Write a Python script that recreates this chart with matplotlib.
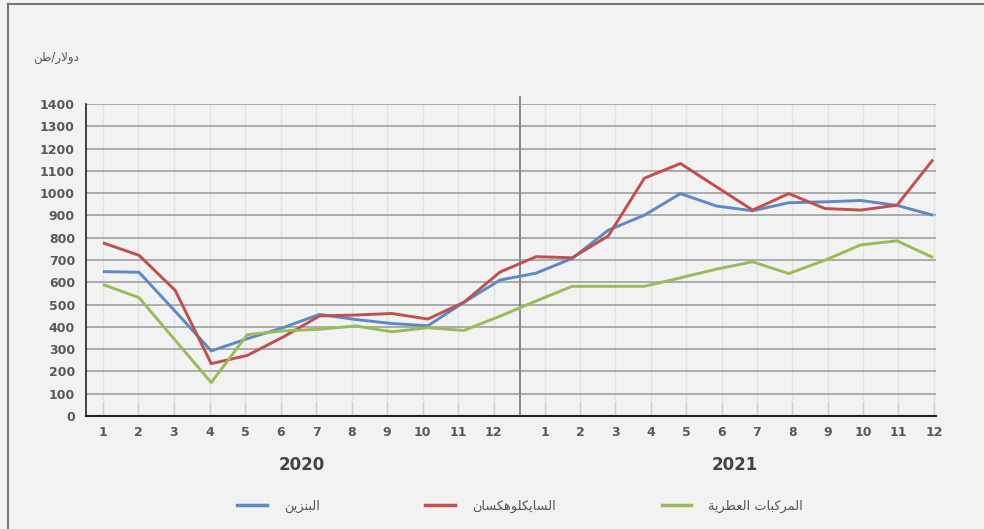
import numpy as np
import matplotlib
matplotlib.use("Agg")
import matplotlib.pyplot as plt
from matplotlib.lines import Line2D

# ---------------- data ----------------
months = [str(m) for m in range(1, 13)] * 2
years = ["2020", "2021"]
benzene = [648, 645, 470, 292, 347, 397, 456, 433, 415, 405, 510, 610,
           641, 707, 834, 901, 998, 942, 921, 957, 961, 967, 945, 901]
cyclohexane = [777, 721, 564, 235, 272, 355, 449, 453, 460, 435, 510, 646,
               715, 710, 808, 1067, 1133, 1028, 924, 998, 931, 924, 946, 1151]
aromatics = [590, 531, 340, 150, 365, 382, 389, 404, 378, 396, 384, 448,
             516, 582, 582, 582, 620, 659, 692, 639, 699, 768, 786, 711]
series_names = ["البنزين", "السايكلوهكسان", "المركبات العطرية"]
unit_label = "دولار/طن"
yticks = list(range(0, 1401, 100))

# ---------------- minimal Arabic shaping ----------------
FORMS = {  # isolated, final, initial, medial
    'ا': (0xFE8D, 0xFE8E, None, None),
    'ب': (0xFE8F, 0xFE90, 0xFE91, 0xFE92),
    'ة': (0xFE93, 0xFE94, None, None),
    'ت': (0xFE95, 0xFE96, 0xFE97, 0xFE98),
    'د': (0xFEA9, 0xFEAA, None, None),
    'ر': (0xFEAD, 0xFEAE, None, None),
    'ز': (0xFEAF, 0xFEB0, None, None),
    'س': (0xFEB1, 0xFEB2, 0xFEB3, 0xFEB4),
    'ط': (0xFEC1, 0xFEC2, 0xFEC3, 0xFEC4),
    'ع': (0xFEC9, 0xFECA, 0xFECB, 0xFECC),
    'ك': (0xFED9, 0xFEDA, 0xFEDB, 0xFEDC),
    'ل': (0xFEDD, 0xFEDE, 0xFEDF, 0xFEE0),
    'م': (0xFEE1, 0xFEE2, 0xFEE3, 0xFEE4),
    'ن': (0xFEE5, 0xFEE6, 0xFEE7, 0xFEE8),
    'ه': (0xFEE9, 0xFEEA, 0xFEEB, 0xFEEC),
    'و': (0xFEED, 0xFEEE, None, None),
    'ي': (0xFEF1, 0xFEF2, 0xFEF3, 0xFEF4),
    'لا': (0xFEFB, 0xFEFC, None, None),
}


def dual(c):
    return c in FORMS and FORMS[c][2] is not None


def shape(text):
    toks = []
    i = 0
    while i < len(text):
        if text[i] == 'ل' and i + 1 < len(text) and text[i + 1] == 'ا':
            toks.append('لا')
            i += 2
        else:
            toks.append(text[i])
            i += 1
    out = []
    for k, t in enumerate(toks):
        if t not in FORMS:
            out.append(t)
            continue
        prev = toks[k - 1] if k > 0 else None
        nxt = toks[k + 1] if k + 1 < len(toks) else None
        cp = prev is not None and dual(prev)
        cn = dual(t) and nxt is not None and nxt in FORMS
        f = FORMS[t]
        if cp and cn:
            code = f[3]
        elif cp:
            code = f[1]
        elif cn:
            code = f[2]
        else:
            code = f[0]
        out.append(chr(code))
    return ''.join(out[::-1])


# ---------------- figure ----------------
BG = '#f2f2f2'
fig = plt.figure(figsize=(9.84, 5.29), dpi=100, facecolor=BG)
ax = fig.add_axes([86 / 984, 1 - 416 / 529, (936 - 86) / 984, (416 - 104) / 529])
ax.set_facecolor(BG)

x = np.arange(len(benzene))
colors = ['#5b8ac6', '#c0504d', '#9bbb59']
for vals, c in zip([benzene, cyclohexane, aromatics], colors):
    ax.plot(x, vals, color=c, lw=2.1, solid_capstyle='butt', zorder=3)

ax.set_xlim(-0.47, 23.08)
ax.set_ylim(0, 1400)
ax.set_yticks(yticks)
xt = np.concatenate([np.arange(12) * 0.984, 12.24 + np.arange(12) * 0.98])
ax.set_xticks(xt)
ax.set_xticklabels(months)

ax.yaxis.grid(True, color='#a6a6a6', lw=1.3, zorder=1)
ax.xaxis.grid(True, color='#e2e2e2', lw=1.0, zorder=0)
ax.set_axisbelow(True)

for s in ['top', 'right']:
    ax.spines[s].set_visible(False)
ax.spines['left'].set_color('#222222')
ax.spines['bottom'].set_color('#222222')
ax.spines['left'].set_linewidth(1.2)
ax.spines['bottom'].set_linewidth(1.5)

ax.tick_params(axis='y', length=0, pad=8, labelsize=9, labelcolor='#595959')
ax.tick_params(axis='x', direction='in', length=10, color='#cfcfcf', width=1,
               pad=7, labelsize=9, labelcolor='#595959')
for lbl in ax.get_xticklabels() + ax.get_yticklabels():
    lbl.set_fontweight('bold')

# year separator
ax.axvline(11.55, ymin=0, ymax=1.022, color='#7a868c', lw=1.3, clip_on=False, zorder=2)

# year labels
trans = matplotlib.transforms.blended_transform_factory(ax.transData, fig.transFigure)
ax.text(5.5, 1 - 465 / 529, years[0], transform=trans, ha='center', va='center',
        fontsize=12, fontweight='bold', color='#444444')
ax.text(17.5, 1 - 465 / 529, years[1], transform=trans, ha='center', va='center',
        fontsize=12, fontweight='bold', color='#444444')

# unit label
fig.text(79 / 984, 1 - 58 / 529, shape(unit_label), ha='right', va='center',
         fontsize=8.5, color='#555555', family='DejaVu Sans')

# legend
handles = [Line2D([0], [0], color=c, lw=2.5) for c in colors]
leg = ax.legend(handles, [shape(n) for n in series_names], ncol=3, loc='center',
                bbox_to_anchor=(520 / 984, 1 - 506 / 529), bbox_transform=fig.transFigure,
                frameon=False, fontsize=9.3, handlelength=2.3, handletextpad=1.3,
                columnspacing=8.2)
for t in leg.get_texts():
    t.set_color('#555555')

# frame (top and left edges)
fig.add_artist(Line2D([8 / 984, 8 / 984], [0, 1 - 4 / 529], transform=fig.transFigure,
                      color='#777777', lw=1.5))
fig.add_artist(Line2D([8 / 984, 1], [1 - 4 / 529, 1 - 4 / 529], transform=fig.transFigure,
                      color='#777777', lw=1.5))

fig.savefig('out.png', dpi=100, facecolor=BG)
